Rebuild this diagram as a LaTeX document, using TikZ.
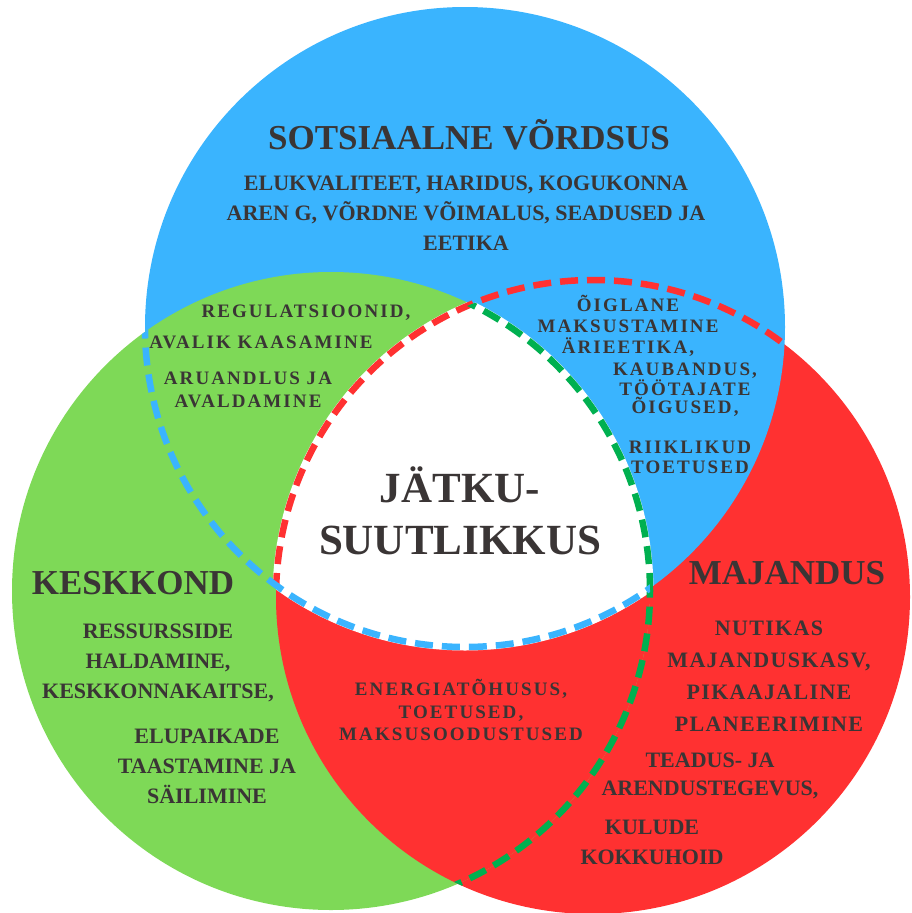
\documentclass[tikz,border=0pt]{standalone}
\usepackage{fontspec}
\setmainfont{Liberation Serif}
\newfontfamily\spacedfont[LetterSpace=11]{Liberation Serif}
\newfontfamily\widefont[LetterSpace=6]{Liberation Serif}
\definecolor{skyblue}{HTML}{3AB4FE}
\definecolor{leafgreen}{HTML}{7ED957}
\definecolor{firered}{HTML}{FF3131}
\definecolor{dashgreen}{HTML}{00B050}
\definecolor{inktext}{HTML}{3A3535}

\begin{document}
\begin{tikzpicture}[x=1pt,y=-1pt,inner sep=0pt,text=inktext,
  head label/.style={font=\bfseries\fontsize{35}{40}\selectfont},
  body label/.style={align=center,font=\bfseries\fontsize{22}{30}\selectfont},
  small label/.style={align=center,font=\spacedfont\bfseries\fontsize{19}{22}\selectfont},
  edge line/.style={line width=6.5pt,dash pattern=on 18pt off 9pt}]

  \useasboundingbox (0,0) rectangle (912,913);

  \coordinate (soc) at (465,327);
  \coordinate (env) at (331,591);
  \coordinate (eco) at (593,597);

  % circles
  \fill[firered] (eco) circle[radius=317pt];
  \fill[skyblue] (soc) circle[radius=320pt];
  \fill[leafgreen] (env) circle[radius=319pt];
  \begin{scope}
    \clip (env) circle[radius=319pt];
    \fill[firered] (eco) circle[radius=317pt];
  \end{scope}

  % white core with white rim
  \begin{scope}
    \clip (env) circle[radius=319pt];
    \clip (soc) circle[radius=320pt];
    \fill[white] (eco) circle[radius=317pt];
    \draw[white,line width=7pt] (eco) circle[radius=317pt];
  \end{scope}
  \begin{scope}
    \clip (soc) circle[radius=320pt];
    \clip (eco) circle[radius=317pt];
    \draw[white,line width=7pt] (env) circle[radius=319pt];
  \end{scope}
  \begin{scope}
    \clip (env) circle[radius=319pt];
    \clip (eco) circle[radius=317pt];
    \draw[white,line width=7pt] (soc) circle[radius=320pt];
  \end{scope}

  % dashed borders
  \begin{scope}
    \clip (soc) circle[radius=320pt];
    \draw[firered,edge line] (eco) circle[radius=317pt];
  \end{scope}
  \begin{scope}
    \clip (eco) circle[radius=317pt];
    \draw[dashgreen,edge line] (env) circle[radius=319pt];
  \end{scope}
  \begin{scope}
    \clip (env) circle[radius=319pt];
    \draw[skyblue,edge line] (soc) circle[radius=320pt];
  \end{scope}

  % social
  \node[head label] (socTitle) at (469,135) {SOTSIAALNE VÕRDSUS};
  \node[body label] (socText) at (466,213) {ELUKVALITEET, HARIDUS, KOGUKONNA\\AREN G, VÕRDNE VÕIMALUS, SEADUSED JA\\EETIKA};

  % environment
  \node[head label] (envTitle) at (133,583) {KESKKOND};
  \node[body label] (envTextA) at (158,663) {RESSURSSIDE\\HALDAMINE,\\KESKKONNAKAITSE,};
  \node[body label] (envTextB) at (207,766) {ELUPAIKADE\\TAASTAMINE JA\\SÄILIMINE};

  % economy
  \node[head label] (ecoTitle) at (787,573) {MAJANDUS};
  \node[body label,font=\widefont\bfseries\fontsize{22}{32}\selectfont] (ecoTextA) at (769,676) {NUTIKAS\\MAJANDUSKASV,\\PIKAAJALINE\\PLANEERIMINE};
  \node[body label,font=\bfseries\fontsize{22}{28}\selectfont] (ecoTextB) at (710,776) {TEADUS- JA\\ARENDUSTEGEVUS,};
  \node[body label] (ecoTextC) at (652,842) {KULUDE\\KOKKUHOID};

  % overlaps
  \node[small label] (govA) at (306,313) {REGULATSIOONID,};
  \node[small label] (govB) at (261,342) {AVALIK KAASAMINE};
  \node[small label,font=\spacedfont\bfseries\fontsize{19}{23}\selectfont] (govC) at (248,390) {ARUANDLUS JA\\AVALDAMINE};
  \node[small label,font=\spacedfont\bfseries\fontsize{19}{21}\selectfont] (fairA) at (628,326) {ÕIGLANE\\MAKSUSTAMINE\\ÄRIEETIKA,};
  \node[small label,font=\spacedfont\bfseries\fontsize{19}{18}\selectfont] (fairB) at (685,390) {KAUBANDUS,\\TÖÖTAJATE\\ÕIGUSED,};
  \node[small label,font=\spacedfont\bfseries\fontsize{19}{20}\selectfont] (fairC) at (690,457) {RIIKLIKUD\\TOETUSED};
  \node[small label,font=\spacedfont\bfseries\fontsize{19}{22.5}\selectfont] (energy) at (461,710) {ENERGIATÕHUSUS,\\TOETUSED,\\MAKSUSOODUSTUSED};

  % centre
  \node[align=center,font=\bfseries\fontsize{43}{52}\selectfont] (core) at (460,511) {JÄTKU-\\SUUTLIKKUS};

\end{tikzpicture}
\end{document}
